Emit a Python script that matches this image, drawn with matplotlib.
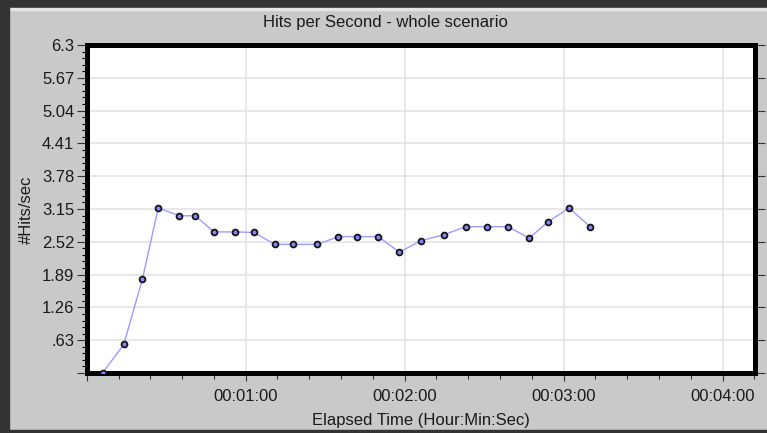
import matplotlib
matplotlib.use("Agg")
from matplotlib import pyplot as plt
from matplotlib.ticker import FixedLocator, FixedFormatter, MultipleLocator
from matplotlib.patches import Rectangle

# elapsed time in seconds and hits per second
seconds = [6, 14, 21, 27, 35, 41, 48, 56, 63, 71, 78, 87, 95, 102, 110,
           118, 126, 135, 143, 151, 159, 167, 174, 182, 190]
hits = [0.0, 0.55, 1.80, 3.17, 3.02, 3.02, 2.71, 2.71, 2.70, 2.47, 2.47, 2.47,
        2.62, 2.62, 2.62, 2.32, 2.54, 2.66, 2.81, 2.81, 2.81, 2.59, 2.90,
        3.17, 2.81]

y_ticks = [0, 0.63, 1.26, 1.89, 2.52, 3.15, 3.78, 4.41, 5.04, 5.67, 6.3]
y_labels = ["", ".63", "1.26", "1.89", "2.52", "3.15", "3.78", "4.41",
            "5.04", "5.67", "6.3"]
x_ticks = [0, 60, 120, 180, 240]
x_labels = ["", "00:01:00", "00:02:00", "00:03:00", "00:04:00"]

plt.rcParams["font.family"] = ["Liberation Sans", "DejaVu Sans"]
bg = "#c9c9c9"

fig = plt.figure(figsize=(7.67, 4.33), dpi=100, facecolor=bg)

# window border
fig.patches.append(Rectangle((0, 1 - 8 / 433), 1, 8 / 433, transform=fig.transFigure,
                             color="#333333", zorder=0))
fig.patches.append(Rectangle((0, 1 - 10 / 433), 1, 1.5 / 433, transform=fig.transFigure,
                             color="#e6e6e6", zorder=0))
fig.patches.append(Rectangle((0, 0), 9 / 767, 1, transform=fig.transFigure,
                             color="#333333", zorder=0))
fig.patches.append(Rectangle((0, 0), 1, 3 / 433, transform=fig.transFigure,
                             color="#333333", zorder=0))

ax = fig.add_axes([86.7 / 767, 1 - 373 / 433, 667.8 / 767, 328 / 433])
ax.set_facecolor("white")

ax.plot(seconds, hits, color="#9c9cff", lw=1.0, marker="o", markersize=4.2,
        markerfacecolor="#8585ff", markeredgecolor="#151515",
        markeredgewidth=1.3, zorder=3)

ax.set_xlim(0, 252)
ax.set_ylim(0, 6.3)

ax.xaxis.set_major_locator(FixedLocator(x_ticks))
ax.xaxis.set_major_formatter(FixedFormatter(x_labels))
ax.xaxis.set_minor_locator(MultipleLocator(12))
ax.yaxis.set_major_locator(FixedLocator(y_ticks))
ax.yaxis.set_major_formatter(FixedFormatter(y_labels))
ax.yaxis.set_minor_locator(MultipleLocator(0.126))

ax.grid(True, which="major", color="#e4e4e4", lw=1.2, zorder=0)
ax.set_axisbelow(True)

for side in ["left", "right", "top", "bottom"]:
    ax.spines[side].set_linewidth(3.6)
    ax.spines[side].set_color("black")

ax.tick_params(axis="both", which="major", labelsize=12, color="#333333",
               labelcolor="#1a1a1a", width=0.8)
ax.tick_params(axis="x", which="major", length=6, pad=5.5)
ax.tick_params(axis="x", which="minor", length=4, width=0.8, color="#333333")
ax.tick_params(axis="y", which="major", length=7, pad=2, right=True)
ax.tick_params(axis="y", which="minor", length=3.5, width=0.8, color="black")

fig.text(385 / 767, 1 - 23 / 433, "Hits per Second - whole scenario",
         ha="center", va="center", fontsize=12, color="#1a1a1a")
fig.text(421 / 767, 1 - 420 / 433, "Elapsed Time (Hour:Min:Sec)",
         ha="center", va="center", fontsize=12, color="#1a1a1a")
fig.text(26 / 767, 1 - 210 / 433, "#Hits/sec", rotation=90,
         ha="center", va="center", fontsize=12, color="#1a1a1a")

fig.savefig("out.png", dpi=100, facecolor=bg)
